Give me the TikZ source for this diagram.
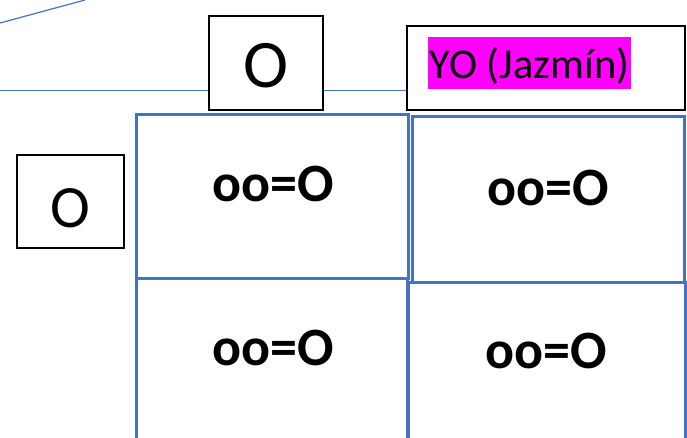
\documentclass[tikz,border=0pt]{standalone}
\usepackage{fontspec}
\setmainfont{Carlito}
\usepackage{xcolor}
\definecolor{cellblue}{HTML}{4472C4}
\definecolor{jazmin}{HTML}{FF00FF}

\begin{document}
\begin{tikzpicture}[x=1pt,y=-1pt,
    thinline/.style={draw=cellblue, line width=1.2pt},
    labelbox/.style={draw=black, line width=2.3pt, fill=white, inner sep=0pt},
    cellbox/.style={draw=cellblue, line width=3pt, inner sep=0pt},
    celltext/.style={font=\fontsize{54}{60}\selectfont\bfseries, anchor=base, inner sep=0pt}]
  \useasboundingbox (0,0) rectangle (687,438);

  % thin blue lines behind the labels
  \coordinate (diagA) at (0,23);
  \coordinate (diagB) at (85,0);
  \coordinate (lineL) at (0,90.5);
  \draw[thinline] (diagA) -- (diagB);

  % top labels
  \node[labelbox, minimum width=114pt, minimum height=94pt] (top) at (266,63) {};
  \node[labelbox, minimum width=278pt, minimum height=84pt] (yo) at (546,68) {};
  \draw[thinline] (lineL) -- (top.west |- lineL);
  \draw[thinline] (top.east |- lineL) -- (yo.west |- lineL);
  \node[font=\fontsize{68}{70}\selectfont, anchor=base, inner sep=0pt] (topO) at (266,88) {O};
  \node[font=\fontsize{42.5}{48}\selectfont, anchor=base west, fill=jazmin,
        inner xsep=1.5pt, inner ysep=0pt, text height=42pt, text depth=10pt] (yoT) at (428,79) {YO (Jazmín)};

  % left label
  \node[labelbox, minimum width=107pt, minimum height=93pt] (left) at (70.5,201.5) {};
  \node[font=\fontsize{60}{64}\selectfont, anchor=base, inner sep=0pt] (leftO) at (70,228) {O};

  % the four cells
  \node[cellbox, minimum width=272pt, minimum height=163pt] (c11) at (272,196.5) {};
  \node[cellbox, minimum width=272pt, minimum height=165pt] (c12) at (548,199.5) {};
  \node[cellbox, minimum width=271pt, minimum height=167pt] (c21) at (271.5,361.5) {};
  \node[cellbox, minimum width=277pt, minimum height=163pt] (c22) at (546.5,363.5) {};

  \node[celltext] (t11) at (273.5,202) {oo=O};
  \node[celltext] (t12) at (548,206) {oo=O};
  \node[celltext] (t21) at (273,365) {oo=O};
  \node[celltext] (t22) at (546,368) {oo=O};
\end{tikzpicture}
\end{document}
